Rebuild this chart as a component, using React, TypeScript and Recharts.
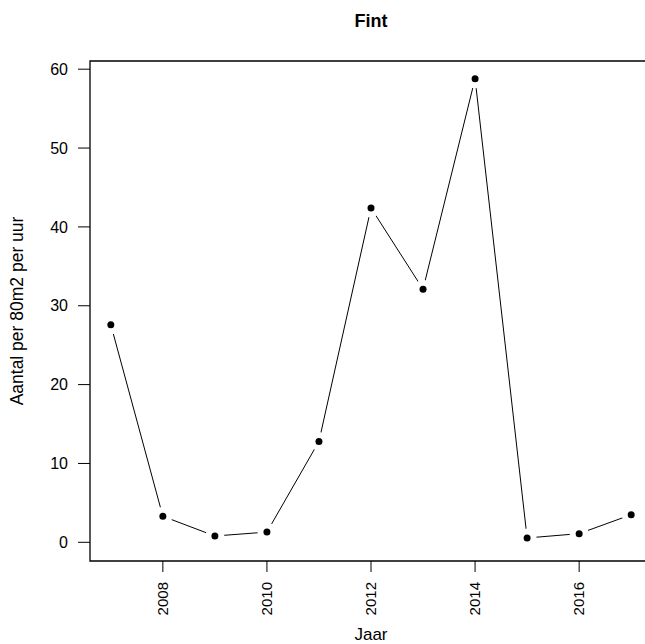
import { LineChart, Line, XAxis, YAxis, ReferenceArea } from "recharts";

const years = [2007, 2008, 2009, 2010, 2011, 2012, 2013, 2014, 2015, 2016, 2017];
const counts = [27.6, 3.3, 0.8, 1.3, 12.8, 42.4, 32.1, 58.8, 0.55, 1.1, 3.5];
const xTicks = [2008, 2010, 2012, 2014, 2016];
const yTicks = [0, 10, 20, 30, 40, 50, 60];

const data = years.map((year, i) => ({ year, count: counts[i] }));

const xDomain = [2006.6, 2017.4];
const yDomain = [-2.37, 61.04];

const font = "'Liberation Sans', Arial, sans-serif";

// rotated year labels, like R's las=2
function YearTick(props: any) {
  const { x, y, payload } = props;
  return (
    <text
      x={x}
      y={y}
      transform={`rotate(-90, ${x}, ${y})`}
      textAnchor="end"
      dy="0.35em"
      fontSize={15}
      fontFamily={font}
      fill="#000"
    >
      {payload.value}
    </text>
  );
}

function PointDot(props: any) {
  const { cx, cy, index } = props;
  return (
    <g key={index}>
      <circle cx={cx} cy={cy} r={9.5} fill="#fff" />
      <circle cx={cx} cy={cy} r={3.5} fill="#000" />
    </g>
  );
}

export default function App() {
  return (
    <div
      style={{
        position: "absolute",
        left: 0,
        top: 0,
        width: 645,
        height: 644,
        overflow: "hidden",
        background: "#fff",
      }}
    >
      <div
        style={{
          position: "absolute",
          left: 271,
          width: 200,
          top: 11,
          textAlign: "center",
          fontFamily: font,
          fontWeight: "bold",
          fontSize: 18,
        }}
      >
        Fint
      </div>
      <LineChart
        width={660}
        height={644}
        data={data}
        margin={{ top: 61, right: 8, bottom: 0, left: 0 }}
      >
        <XAxis
          type="number"
          dataKey="year"
          domain={xDomain}
          ticks={xTicks}
          allowDataOverflow
          height={83}
          axisLine={false}
          tickSize={11}
          tickMargin={10}
          tickLine={{ stroke: "#000" }}
          tick={<YearTick />}
          label={{
            value: "Jaar",
            position: "insideBottom",
            offset: 4,
            fill: "#000",
            fontSize: 17,
            fontFamily: font,
          }}
        />
        <YAxis
          type="number"
          domain={yDomain}
          ticks={yTicks}
          allowDataOverflow
          width={90}
          axisLine={false}
          tickSize={12}
          tickMargin={10}
          tickLine={{ stroke: "#000" }}
          tick={{ fill: "#000", fontSize: 16, fontFamily: font }}
          label={{
            value: "Aantal per 80m2 per uur",
            angle: -90,
            position: "insideLeft",
            offset: 17,
            textAnchor: "middle",
            fill: "#000",
            fontSize: 17.5,
            fontFamily: font,
          }}
        />
        <ReferenceArea
          x1={xDomain[0]}
          x2={xDomain[1]}
          y1={yDomain[0]}
          y2={yDomain[1]}
          fill="none"
          stroke="#000"
          strokeWidth={1.3}
          ifOverflow="visible"
        />
        <Line
          type="linear"
          dataKey="count"
          stroke="#000"
          strokeWidth={1}
          dot={<PointDot />}
          activeDot={false}
          isAnimationActive={false}
        />
      </LineChart>
    </div>
  );
}
